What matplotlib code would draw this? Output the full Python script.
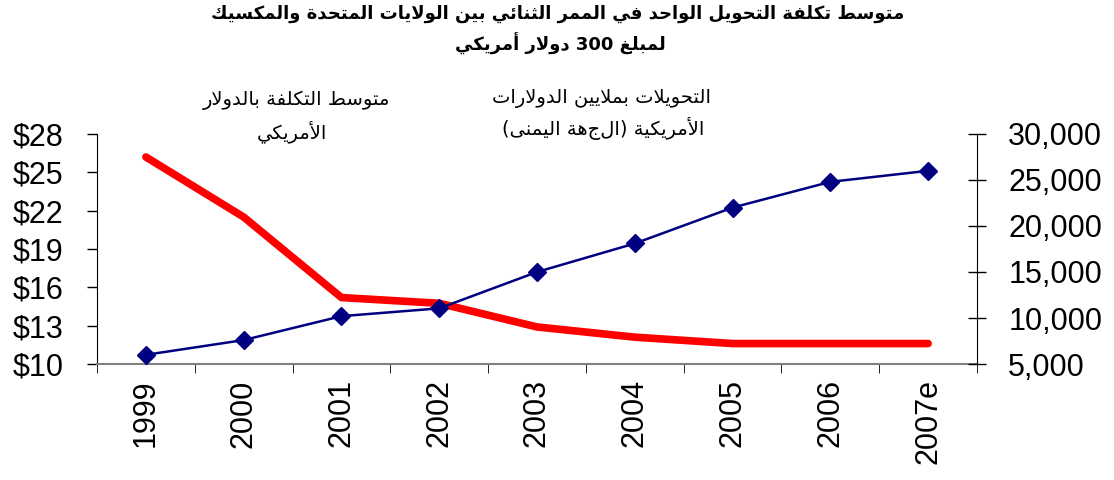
import re
import numpy as np
import matplotlib
matplotlib.use('Agg')
import matplotlib.pyplot as plt
from matplotlib.ticker import FixedLocator, FuncFormatter

# data
years = ['1999', '2000', '2001', '2002', '2003', '2004', '2005', '2006', '2007e']
avg_cost = [26.2, 21.5, 15.2, 14.75, 12.9, 12.1, 11.6, 11.6, 11.6]
transfers = [6000, 7600, 10200, 11050, 15000, 18100, 22000, 24800, 26000]

title_lines = ['متوسط تكلفة التحويل الواحد في الممر الثنائي بين الولايات المتحدة والمكسيك',
               'لمبلغ 300 دولار أمريكي']
cost_label = ['متوسط التكلفة بالدولار', 'الأمريكي']
transfer_label = ['التحويلات بملايين الدولارات', 'الأمريكية (الجهة اليمنى)']

# matplotlib has no arabic shaping, so do the joining forms by hand
# letter -> (isolated presentation form, joins on both sides)
AR_FORMS = {
  'ا': (0xFE8D, False), 'أ': (0xFE83, False), 'ب': (0xFE8F, True),
  'ة': (0xFE93, False), 'ت': (0xFE95, True), 'ث': (0xFE99, True),
  'ح': (0xFEA1, True), 'د': (0xFEA9, False), 'ر': (0xFEAD, False),
  'س': (0xFEB1, True), 'ط': (0xFEC1, True), 'غ': (0xFECD, True),
  'ف': (0xFED1, True), 'ك': (0xFED9, True), 'ل': (0xFEDD, True),
  'م': (0xFEE1, True), 'ن': (0xFEE5, True), 'ه': (0xFEE9, True),
  'و': (0xFEED, False), 'ى': (0xFEEF, False), 'ي': (0xFEF1, True),
  'ئ': (0xFE89, True),
}
LAM_ALEF = {'ا': 0xFEFB, 'أ': 0xFEF7}
MIRROR = {'(': ')', ')': '('}


def shape_ar(text):
  units = []
  i = 0
  while i < len(text):
    c = text[i]
    if c == 'ل' and i + 1 < len(text) and text[i + 1] in LAM_ALEF:
      units.append((LAM_ALEF[text[i + 1]], False))
      i += 2
      continue
    units.append(AR_FORMS.get(c, c))
    i += 1
  out = []
  for k, u in enumerate(units):
    if isinstance(u, str):
      out.append(u)
      continue
    iso, dual = u
    prev = units[k - 1] if k > 0 else None
    nxt = units[k + 1] if k + 1 < len(units) else None
    prev_join = isinstance(prev, tuple) and prev[1]
    next_join = dual and isinstance(nxt, tuple)
    if dual:
      off = {(False, False): 0, (True, False): 1, (False, True): 2, (True, True): 3}[(prev_join, next_join)]
    else:
      off = 1 if prev_join else 0
    out.append(chr(iso + off))
  shaped = ''.join(out)
  # visual order: reverse runs, keep digit runs left to right
  runs = re.findall(r'[0-9]+|[^0-9]+', shaped)
  vis = []
  for r in reversed(runs):
    if r.isdigit():
      vis.append(r)
    else:
      vis.append(''.join(MIRROR.get(ch, ch) for ch in reversed(r)))
  return ''.join(vis)


W, H = 1114, 480
fig = plt.figure(figsize=(W / 100, H / 100), dpi=100)
ax = fig.add_axes([97 / W, 1 - 364 / H, 880 / W, 230 / H])
ax2 = ax.twinx()

x = np.arange(len(years))
ax.plot(x, avg_cost, color='#ff0000', linewidth=5.5, solid_capstyle='round', solid_joinstyle='round', zorder=3)
ax2.plot(x, transfers, color='#000080', linewidth=1.8, marker='D', markersize=9, zorder=4)

ax.set_xlim(-0.5, len(years) - 0.5)
ax.set_ylim(10, 28)
ax2.set_ylim(5000, 30000)

tick_font = dict(family='Liberation Sans', size=22)
ax.set_xticks(x)
ax.set_xticklabels(years, rotation=90, **tick_font)
ax.xaxis.set_minor_locator(FixedLocator(np.arange(-0.5, len(years), 1.0)))
ax.tick_params(axis='x', which='major', length=0, pad=11)
ax.tick_params(axis='x', which='minor', length=6.5, color='black', direction='out')

ax.set_yticks(np.arange(10, 29, 3))
ax.yaxis.set_major_formatter(FuncFormatter(lambda v, p: f'${v:.0f}'))
ax.tick_params(axis='y', length=7, width=1, pad=17, direction='out')
for t in ax.get_yticklabels():
  t.set_fontproperties(matplotlib.font_manager.FontProperties(**tick_font))

ax2.set_yticks(np.arange(5000, 30001, 5000))
ax2.yaxis.set_major_formatter(FuncFormatter(lambda v, p: f'{v:,.0f}'))
ax2.tick_params(axis='y', length=13, width=1, pad=16, direction='inout')
for t in ax2.get_yticklabels():
  t.set_fontproperties(matplotlib.font_manager.FontProperties(**tick_font))

for a in (ax, ax2):
  a.spines['top'].set_visible(False)
  a.patch.set_visible(False)
ax.spines['right'].set_visible(False)
ax2.spines['left'].set_visible(False)
ax2.spines['bottom'].set_visible(False)
ax.spines['bottom'].set_color('#808080')
ax.spines['bottom'].set_linewidth(1.5)

ar = dict(family='DejaVu Sans', ha='center', va='center', color='black')
fig.text(558 / W, 1 - 14 / H, shape_ar(title_lines[0]), fontsize=13, fontweight='bold', **ar)
fig.text(560 / W, 1 - 44 / H, shape_ar(title_lines[1]), fontsize=13, fontweight='bold', **ar)
fig.text(297 / W, 1 - 100 / H, shape_ar(cost_label[0]), fontsize=14, **ar)
fig.text(292 / W, 1 - 132 / H, shape_ar(cost_label[1]), fontsize=14, **ar)
fig.text(601 / W, 1 - 98 / H, shape_ar(transfer_label[0]), fontsize=14, **ar)
fig.text(603 / W, 1 - 129 / H, shape_ar(transfer_label[1]), fontsize=14, **ar)

fig.savefig('out.png', dpi=100)
